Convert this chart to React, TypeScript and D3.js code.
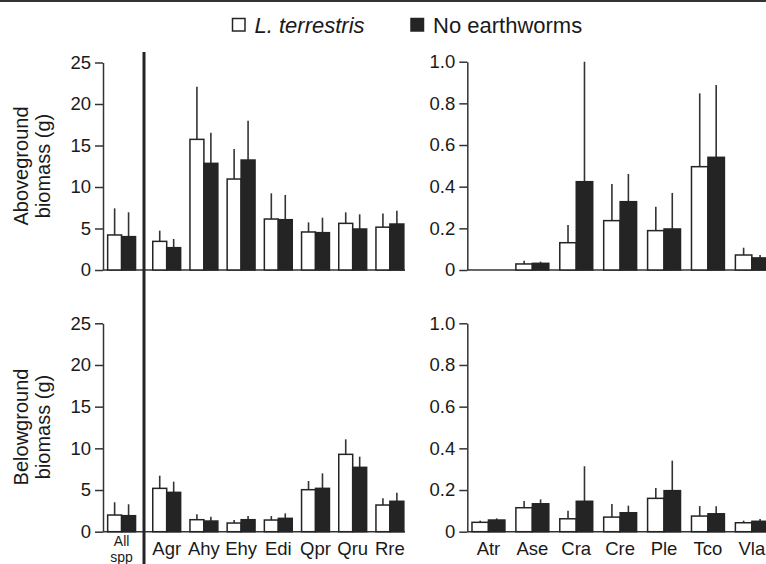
import React, { useEffect, useRef } from "react";
import * as d3 from "d3";

const W = 766;
const H = 564;
const FONT = "'Liberation Sans', Arial, Helvetica, sans-serif";

// Categories
const allSpp = ["All spp"];
const speciesLeft = ["Agr", "Ahy", "Ehy", "Edi", "Qpr", "Qru", "Rre"];
const speciesRight = ["Atr", "Ase", "Cra", "Cre", "Ple", "Tco", "Vla"];
const treatments = ["L. terrestris", "No earthworms"];

// Tick values
const ticksLeft = [0, 5, 10, 15, 20, 25];
const ticksRight = [0, 0.2, 0.4, 0.6, 0.8, 1.0];

// Aboveground biomass (g) – means and SE
const aboveAllLt = [4.22];
const aboveAllLtSe = [3.21];
const aboveAllNo = [4.02];
const aboveAllNoSe = [2.93];
const aboveLeftLt = [3.45, 15.74, 10.96, 6.14, 4.58, 5.62, 5.16];
const aboveLeftLtSe = [1.29, 6.34, 3.62, 3.1, 1.16, 1.33, 1.64];
const aboveLeftNo = [2.69, 12.85, 13.25, 6.06, 4.5, 4.94, 5.54];
const aboveLeftNoSe = [1.04, 3.7, 4.74, 2.98, 1.8, 1.77, 1.6];
const aboveRightLt = [0, 0.029, 0.131, 0.237, 0.189, 0.496, 0.072];
const aboveRightLtSe = [0, 0.016, 0.085, 0.176, 0.115, 0.352, 0.035];
const aboveRightNo = [0, 0.032, 0.424, 0.328, 0.197, 0.541, 0.058];
const aboveRightNoSe = [0, 0.008, 0.576, 0.133, 0.173, 0.347, 0.014];

// Belowground biomass (g) – means and SE
const belowAllLt = [2.0];
const belowAllLtSe = [1.53];
const belowAllNo = [1.92];
const belowAllNoSe = [1.37];
const belowLeftLt = [5.2, 1.44, 1.04, 1.4, 5.04, 9.28, 3.2];
const belowLeftLtSe = [1.52, 0.64, 0.36, 0.48, 1.04, 1.8, 0.8];
const belowLeftNo = [4.72, 1.28, 1.44, 1.6, 5.2, 7.72, 3.65];
const belowLeftNoSe = [1.28, 0.52, 0.44, 0.6, 1.8, 1.28, 1.03];
const belowRightLt = [0.045, 0.115, 0.062, 0.07, 0.16, 0.075, 0.043];
const belowRightLtSe = [0.008, 0.032, 0.039, 0.063, 0.05, 0.048, 0.01];
const belowRightNo = [0.056, 0.134, 0.146, 0.091, 0.197, 0.086, 0.05];
const belowRightNoSe = [0.008, 0.021, 0.168, 0.034, 0.144, 0.036, 0.011];

const DARK = "#242424";
const LINE = "#333333";

export default function App() {
  const ref = useRef<SVGSVGElement>(null);

  useEffect(() => {
    const svg = d3.select(ref.current);
    svg.selectAll("*").remove();

    // x scales
    const xAll = d3.scaleBand<string>().domain(allSpp).range([103, 140.2]).paddingInner(0.25).paddingOuter(0.125);
    const xLeft = d3.scaleBand<string>().domain(speciesLeft).range([148.1, 408.5]).paddingInner(0.25).paddingOuter(0.125);
    const xRight = d3.scaleBand<string>().domain(speciesRight).range([466.5, 773.8]).paddingInner(0.25).paddingOuter(0.125);

    // y scales
    const yTL = d3.scaleLinear().domain([0, 25]).range([270, 62.5]);
    const yBL = d3.scaleLinear().domain([0, 25]).range([531.7, 323.3]);
    const yTR = d3.scaleLinear().domain([0, 1]).range([270, 61.7]);
    const yBR = d3.scaleLinear().domain([0, 1]).range([531.7, 323.3]);

    const axisLeftX = 103;
    const axisRightX = 467.3;

    // top border
    svg.append("line").attr("x1", 0).attr("x2", W).attr("y1", 1).attr("y2", 1)
      .attr("stroke", LINE).attr("stroke-width", 2);

    const drawAxis = (y: d3.ScaleLinear<number, number>, x: number, ticks: number[], fmt: (d: number) => string, xEnd: number) => {
      const g = svg.append("g").attr("transform", `translate(${x},0)`);
      g.call(d3.axisLeft(y).tickValues(ticks).tickFormat(fmt as any).tickSize(8).tickSizeOuter(0).tickPadding(4));
      g.select(".domain").attr("stroke", LINE).attr("stroke-width", 1.5);
      g.selectAll(".tick line").attr("stroke", LINE).attr("stroke-width", 1.5);
      g.selectAll(".tick text").attr("font-size", 18.5).attr("font-family", FONT).attr("fill", "#1a1a1a");
      svg.append("line").attr("x1", x).attr("x2", xEnd).attr("y1", y(0)).attr("y2", y(0))
        .attr("stroke", LINE).attr("stroke-width", 1.5);
    };

    const fmtInt = (d: number) => d3.format("d")(d);
    const fmtDec = (d: number) => (d === 0 ? "0" : d3.format(".1f")(d));

    drawAxis(yTL, axisLeftX, ticksLeft, fmtInt, 405);
    drawAxis(yBL, axisLeftX, ticksLeft, fmtInt, 405);
    drawAxis(yTR, axisRightX, ticksRight, fmtDec, W);
    drawAxis(yBR, axisRightX, ticksRight, fmtDec, W);

    const drawBars = (
      xs: d3.ScaleBand<string>,
      cats: string[],
      y: d3.ScaleLinear<number, number>,
      lt: number[], ltSe: number[], no: number[], noSe: number[]
    ) => {
      const bw = xs.bandwidth() / 2;
      const g = svg.append("g");
      cats.forEach((c, i) => {
        const x0 = xs(c) as number;
        const series = [
          { v: lt[i], se: ltSe[i], fill: "#ffffff", x: x0 },
          { v: no[i], se: noSe[i], fill: DARK, x: x0 + bw },
        ];
        series.forEach((s) => {
          if (s.se > 0) {
            g.append("line")
              .attr("x1", s.x + bw / 2).attr("x2", s.x + bw / 2)
              .attr("y1", y(s.v)).attr("y2", y(s.v + s.se))
              .attr("stroke", LINE).attr("stroke-width", 1.6);
          }
          if (s.v > 0) {
            g.append("rect")
              .attr("x", s.x).attr("y", y(s.v))
              .attr("width", bw).attr("height", y(0) - y(s.v))
              .attr("fill", s.fill).attr("stroke", DARK).attr("stroke-width", 1.5);
          }
        });
      });
    };

    drawBars(xAll, allSpp, yTL, aboveAllLt, aboveAllLtSe, aboveAllNo, aboveAllNoSe);
    drawBars(xLeft, speciesLeft, yTL, aboveLeftLt, aboveLeftLtSe, aboveLeftNo, aboveLeftNoSe);
    drawBars(xRight, speciesRight, yTR, aboveRightLt, aboveRightLtSe, aboveRightNo, aboveRightNoSe);
    drawBars(xAll, allSpp, yBL, belowAllLt, belowAllLtSe, belowAllNo, belowAllNoSe);
    drawBars(xLeft, speciesLeft, yBL, belowLeftLt, belowLeftLtSe, belowLeftNo, belowLeftNoSe);
    drawBars(xRight, speciesRight, yBR, belowRightLt, belowRightLtSe, belowRightNo, belowRightNoSe);

    // separator
    svg.append("line").attr("x1", 144).attr("x2", 144).attr("y1", 52).attr("y2", H)
      .attr("stroke", DARK).attr("stroke-width", 3);

    // category labels
    const labelY = 554.5;
    const addLabels = (xs: d3.ScaleBand<string>, cats: string[]) => {
      svg.append("g").selectAll("text").data(cats).join("text")
        .attr("x", (d) => (xs(d) as number) + xs.bandwidth() / 2)
        .attr("y", labelY)
        .attr("text-anchor", "middle")
        .attr("font-size", 18.5).attr("font-family", FONT).attr("fill", "#1a1a1a")
        .text((d) => d);
    };
    addLabels(xLeft, speciesLeft);
    addLabels(xRight, speciesRight);

    // "All spp" wrapped onto two lines
    const allX = (xAll(allSpp[0]) as number) + xAll.bandwidth() / 2;
    const allParts = allSpp[0].split(" ");
    const allBaselines = [545.5, 561.5];
    allParts.forEach((p, i) => {
      svg.append("text").attr("x", allX).attr("y", allBaselines[i]).attr("text-anchor", "middle")
        .attr("font-size", 14).attr("font-family", FONT).attr("fill", "#1a1a1a").text(p);
    });

    // axis titles
    const addTitle = (lines: string[], cy: number) => {
      const xs = [28, 50];
      lines.forEach((t, i) => {
        svg.append("text")
          .attr("transform", `translate(${xs[i]},${cy}) rotate(-90)`)
          .attr("text-anchor", "middle")
          .attr("font-size", 20).attr("font-family", FONT).attr("fill", "#1a1a1a")
          .text(t);
      });
    };
    addTitle(["Aboveground", "biomass (g)"], 166);
    addTitle(["Belowground", "biomass (g)"], 427);

    // legend
    const lg = svg.append("g");
    const legendX = [232.5, 411];
    treatments.forEach((t, i) => {
      lg.append("rect").attr("x", legendX[i]).attr("y", 18.5).attr("width", 12.5).attr("height", 12.5)
        .attr("fill", i === 0 ? "#fff" : DARK).attr("stroke", DARK).attr("stroke-width", 1.5);
      lg.append("text").attr("x", legendX[i] + 22).attr("y", 33)
        .attr("font-size", 22).attr("font-family", FONT).attr("fill", "#1a1a1a")
        .attr("font-style", i === 0 ? "italic" : "normal")
        .text(t);
    });
  }, []);

  return (
    <svg
      ref={ref}
      width={W}
      height={H}
      style={{ position: "absolute", left: 0, top: 0, background: "#fff", display: "block" }}
    />
  );
}
